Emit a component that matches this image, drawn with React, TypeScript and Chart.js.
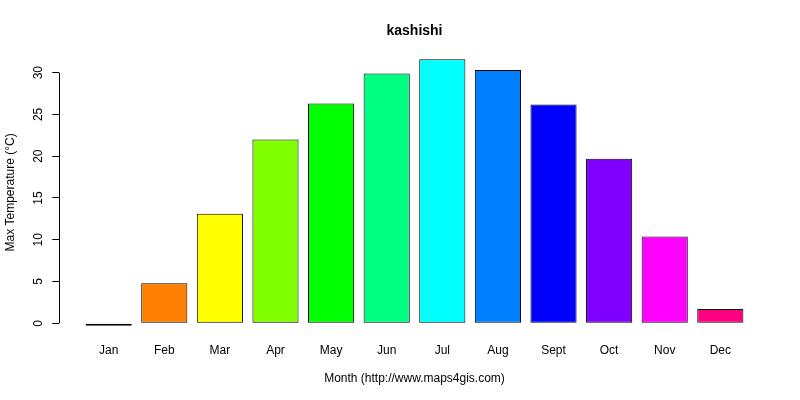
import React, { useEffect, useRef } from 'react';
import { Chart, registerables } from 'chart.js';

Chart.register(...registerables);

const months = ['Jan', 'Feb', 'Mar', 'Apr', 'May', 'Jun', 'Jul', 'Aug', 'Sept', 'Oct', 'Nov', 'Dec'];
const maxTemp = [-0.3, 4.8, 13.1, 22.0, 26.3, 29.9, 31.6, 30.3, 26.2, 19.7, 10.4, 1.7];
const barColors = [
    '#FF0000', '#FF8000', '#FFFF00', '#80FF00', '#00FF00', '#00FF80',
    '#00FFFF', '#0080FF', '#0000FF', '#8000FF', '#FF00FF', '#FF0080',
];
const yTicks = [0, 5, 10, 15, 20, 25, 30];

const FONT = "'Liberation Sans', Arial, sans-serif";

// R style y axis line: only spans the first to the last tick
const axisLinePlugin = {
    id: 'axisLine',
    afterDraw(chart: any) {
        const { ctx, chartArea, scales } = chart;
        const x = Math.round(chartArea.left) + 0.5;
        ctx.save();
        ctx.strokeStyle = '#000';
        ctx.lineWidth = 1;
        ctx.beginPath();
        ctx.moveTo(x, scales.y.getPixelForValue(yTicks[0]));
        ctx.lineTo(x, scales.y.getPixelForValue(yTicks[yTicks.length - 1]));
        ctx.stroke();
        ctx.restore();
    },
};

export default function App() {
    const chartRef = useRef<HTMLCanvasElement>(null);
    const chartInstance = useRef<Chart | null>(null);

    useEffect(() => {
        document.body.style.margin = '0';
        if (!chartRef.current) return;
        if (chartInstance.current) chartInstance.current.destroy();

        const ctx = chartRef.current.getContext('2d');
        if (!ctx) return;

        chartInstance.current = new Chart(ctx, {
            type: 'bar',
            data: {
                datasets: [{
                    label: 'Max Temperature',
                    data: maxTemp.map((v, i) => ({ x: i + 1, y: v })),
                    backgroundColor: barColors,
                    borderColor: '#000',
                    borderWidth: 1,
                    borderSkipped: false,
                    categoryPercentage: 1,
                    barPercentage: 0.83,
                }]
            },
            options: {
                responsive: true,
                maintainAspectRatio: false,
                animation: false,
                layout: { padding: { left: 0, right: 30.3, top: 0, bottom: 0 } },
                plugins: {
                    legend: { display: false },
                    tooltip: { enabled: false },
                    title: {
                        display: true,
                        text: 'kashishi',
                        fullSize: false,
                        color: '#000',
                        font: { family: FONT, size: 14, weight: 'bold' },
                        padding: { top: 22.3, bottom: 9.3 },
                    },
                },
                scales: {
                    x: {
                        type: 'linear',
                        bounds: 'data',
                        offset: false,
                        min: 0.112,
                        max: 12.888,
                        afterBuildTicks: (scale: any) => {
                            scale.ticks = months.map((_, i) => ({ value: i + 1 }));
                        },
                        afterFit: (scale: any) => { scale.height = 63.5; },
                        grid: { display: false, drawTicks: false, offset: false },
                        border: { display: false },
                        ticks: {
                            autoSkip: false,
                            maxRotation: 0,
                            padding: 7.3,
                            color: '#000',
                            font: { family: FONT, size: 12 },
                            callback: (v: any) => months[Number(v) - 1] ?? '',
                        },
                        title: {
                            display: true,
                            text: 'Month (http://www.maps4gis.com)',
                            color: '#000',
                            font: { family: FONT, size: 12 },
                            padding: { top: 0, bottom: 14.5 },
                        },
                    },
                    y: {
                        min: -1.58,
                        max: 32.9,
                        afterBuildTicks: (scale: any) => {
                            scale.ticks = yTicks.map((v) => ({ value: v }));
                        },
                        afterFit: (scale: any) => { scale.width = 59.3; },
                        grid: {
                            display: true,
                            drawOnChartArea: false,
                            drawTicks: true,
                            tickLength: 7,
                            color: '#000',
                        },
                        border: { display: false },
                        ticks: {
                            minRotation: 90,
                            maxRotation: 90,
                            crossAlign: 'center',
                            padding: 6.6,
                            color: '#000',
                            font: { family: FONT, size: 12 },
                        },
                        title: {
                            display: true,
                            text: 'Max Temperature (°C)',
                            color: '#000',
                            font: { family: FONT, size: 12 },
                            padding: { top: 3, bottom: 0 },
                        },
                    },
                },
            } as any,
            plugins: [axisLinePlugin],
        });

        return () => {
            if (chartInstance.current) {
                chartInstance.current.destroy();
                chartInstance.current = null;
            }
        };
    }, []);

    return (
        <div style={{ position: 'relative', width: 800, height: 400, background: '#fff' }}>
            <canvas ref={chartRef}></canvas>
        </div>
    );
}
